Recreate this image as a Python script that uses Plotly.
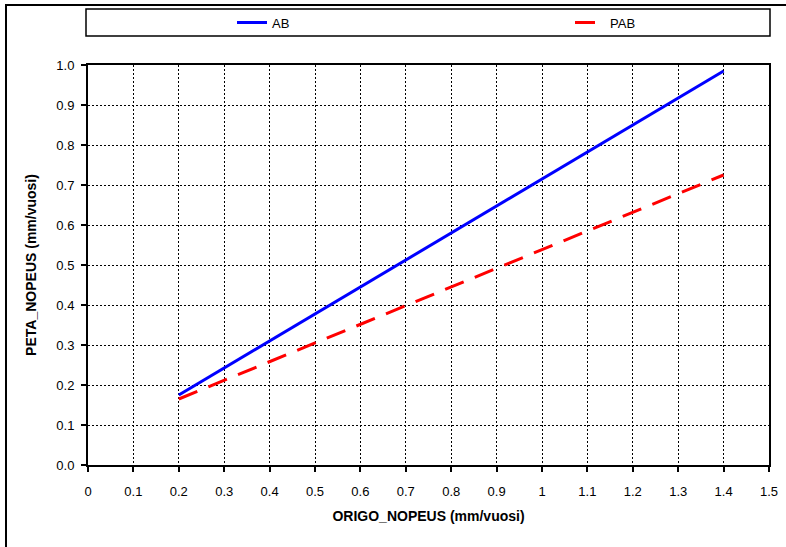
import plotly.graph_objects as go

# Data
x_vals = [0.2, 0.4, 0.6, 0.8, 1.0, 1.2, 1.4]
ab_vals = [0.175, 0.31, 0.445, 0.58, 0.715, 0.85, 0.985]
pab_vals = [0.165, 0.258, 0.352, 0.445, 0.538, 0.632, 0.725]
series_names = ["AB", "PAB"]

W, H = 786, 547
L, R, T, B = 88, 17, 65, 82
pw, ph = W - L - R, H - T - B

def px(xp):
    return (xp - L) / pw

def py(yp):
    return (H - B - yp) / ph

fig = go.Figure()
fig.add_trace(go.Scatter(x=x_vals, y=ab_vals, mode="lines", name=series_names[0],
                         line=dict(color="#0000ff", width=3), legend="legend"))
fig.add_trace(go.Scatter(x=x_vals, y=pab_vals, mode="lines", name=series_names[1],
                         line=dict(color="#ff0000", width=3, dash="20px,12px"), legend="legend2"))

font = "Liberation Sans, Arial, sans-serif"
axis_common = dict(
    showline=True, linecolor="black", linewidth=2, mirror=True,
    showgrid=True, gridcolor="black", gridwidth=1.2, griddash="2px,2px",
    ticks="outside", ticklen=5, tickwidth=1.5, tickcolor="black",
    tickfont=dict(family=font, size=13, color="#000"),
    zeroline=False,
)

fig.update_xaxes(range=[0, 1.5], dtick=0.1, tick0=0, ticklabelstandoff=8,
                 title=dict(text="<b>ORIGO_NOPEUS (mm/vuosi)</b>",
                            font=dict(family=font, size=14, color="#000"), standoff=14),
                 **axis_common)
fig.update_yaxes(range=[0, 1.0], dtick=0.1, tick0=0, tickformat=".1f", ticklabelstandoff=4,
                 title=dict(text="<b>PETA_NOPEUS (mm/vuosi)</b>",
                            font=dict(family=font, size=14, color="#000"), standoff=16),
                 **axis_common)

shapes = [
    # outer border
    dict(type="rect", xref="paper", yref="paper",
         x0=px(6), x1=px(W + 20), y0=py(H + 20), y1=py(5),
         line=dict(color="black", width=2), fillcolor="rgba(0,0,0,0)", layer="above"),
    # legend box
    dict(type="rect", xref="paper", yref="paper",
         x0=px(86), x1=px(770), y0=py(36), y1=py(9),
         line=dict(color="black", width=1.5), fillcolor="rgba(0,0,0,0)"),
]

leg_common = dict(orientation="h", yanchor="middle", y=py(22.5), xanchor="left",
                  bgcolor="rgba(0,0,0,0)", borderwidth=0,
                  font=dict(family=font, size=13, color="#000"))

fig.update_layout(
    width=W, height=H,
    margin=dict(l=L, r=R, t=T, b=B, autoexpand=False),
    paper_bgcolor="white", plot_bgcolor="white",
    font=dict(family=font, size=12, color="#000"),
    shapes=shapes,
    showlegend=True,
    legend=dict(x=px(232), **leg_common),
    legend2=dict(x=px(570), **leg_common),
)

fig.write_html("out.html")
